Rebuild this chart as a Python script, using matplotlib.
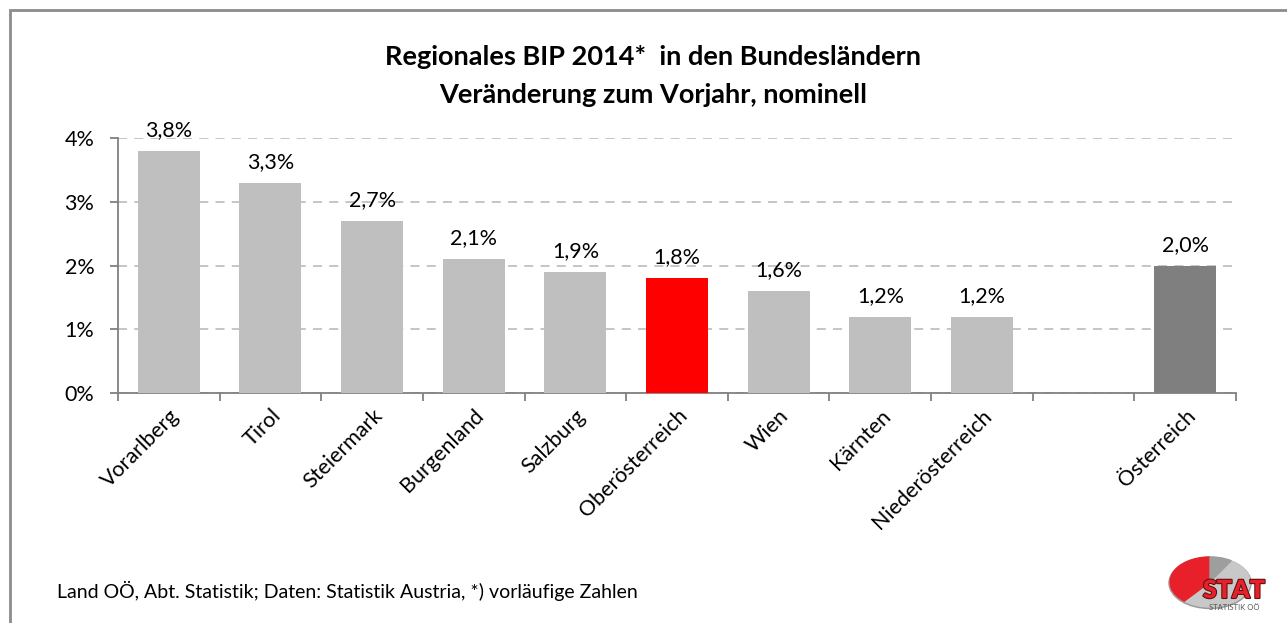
import numpy as np
import matplotlib.pyplot as plt
import matplotlib.patheffects as pe
from matplotlib.patches import Ellipse, Wedge, Rectangle
from matplotlib.transforms import Affine2D

plt.rcParams['font.family'] = ['Lato', 'DejaVu Sans']

regionen = ['Vorarlberg', 'Tirol', 'Steiermark', 'Burgenland', 'Salzburg',
            'Oberösterreich', 'Wien', 'Kärnten', 'Niederösterreich', '', 'Österreich']
werte = [3.8, 3.3, 2.7, 2.1, 1.9, 1.8, 1.6, 1.2, 1.2, np.nan, 2.0]
farben = ['#bfbfbf'] * 5 + ['#ff0000'] + ['#bfbfbf'] * 3 + ['#bfbfbf', '#7f7f7f']

fig = plt.figure(figsize=(12.87, 6.23), dpi=100)
ax = fig.add_axes([0.0917, 0.369, 0.8687, 0.4095])

x = np.arange(len(regionen))
ax.bar(x, werte, width=0.61, color=farben, zorder=3)
for xi, v in zip(x, werte):
    if not np.isnan(v):
        ax.text(xi, v + 0.17, ('%.1f%%' % v).replace('.', ','), ha='center', va='bottom', fontsize=15.5)

ax.set_xlim(-0.5, len(regionen) - 0.5)
ax.set_ylim(0, 4)
ax.set_yticks([0, 1, 2, 3, 4])
ax.set_yticklabels(['0%', '1%', '2%', '3%', '4%'], fontsize=15.5)
ax.yaxis.grid(True, linestyle=(0, (5, 4)), color='#c0c0c0', linewidth=1.3, zorder=0)

# Ticks an den Kategoriegrenzen
ax.set_xticks(np.arange(-0.5, len(regionen), 1.0))
ax.set_xticklabels([])
ax.set_xticks(x, minor=True)
ax.set_xticklabels(regionen, minor=True, rotation=45, ha='right', rotation_mode='anchor', fontsize=15.5)
ax.tick_params(axis='x', which='minor', length=0, pad=9)
ax.tick_params(axis='x', which='major', length=6, color='#808080', width=1.3)
ax.tick_params(axis='y', length=6, color='#808080', width=1.3, pad=11)

for s in ['top', 'right']:
    ax.spines[s].set_visible(False)
ax.spines['left'].set_color('#808080')
ax.spines['bottom'].set_color('#808080')
ax.spines['left'].set_linewidth(1.3)
ax.spines['bottom'].set_linewidth(1.3)

fig.text(0.5075, 0.908, 'Regionales BIP 2014*  in den Bundesländern', ha='center', va='center',
         fontsize=19.5, fontweight='bold')
fig.text(0.5075, 0.847, 'Veränderung zum Vorjahr, nominell', ha='center', va='center',
         fontsize=19.5, fontweight='bold')
fig.text(0.044, 0.051, 'Land OÖ, Abt. Statistik; Daten: Statistik Austria, *) vorläufige Zahlen',
         ha='left', va='center', fontsize=14)

# Rahmen
fig.patches.append(Rectangle((0.0078, -0.01), 1.1, 0.994, transform=fig.transFigure,
                             fill=False, edgecolor='#8c8c8c', linewidth=2))

# Logo
lax = fig.add_axes([1150 / 1287, 0, 137 / 1287, 73 / 623])
lax.set_xlim(0, 137)
lax.set_ylim(73, 0)
lax.axis('off')
ell = Affine2D().scale(40, 25).translate(60, 32) + lax.transData
lax.add_patch(Ellipse((60, 33), 82, 51, color='#9a9a9a', zorder=0))
lax.add_patch(Ellipse((60, 32), 80, 50, color='#c8c8c8', zorder=1))
lax.add_patch(Wedge((0, 0), 1, 130, 270, color='#e8202a', zorder=2, transform=ell))
lax.add_patch(Wedge((0, 0), 1, 270, 302, color='#9e9e9e', zorder=2, transform=ell))
lax.text(84, 41, 'STAT', ha='center', va='center', fontsize=18, fontweight='heavy',
         color='#e8202a', zorder=4, path_effects=[pe.withStroke(linewidth=1.5, foreground='#5a1010')])
lax.text(84, 58, 'STATISTIK OÖ', ha='center', va='center', fontsize=5.5, color='#555555', zorder=4)

fig.savefig('out.png', dpi=100)
